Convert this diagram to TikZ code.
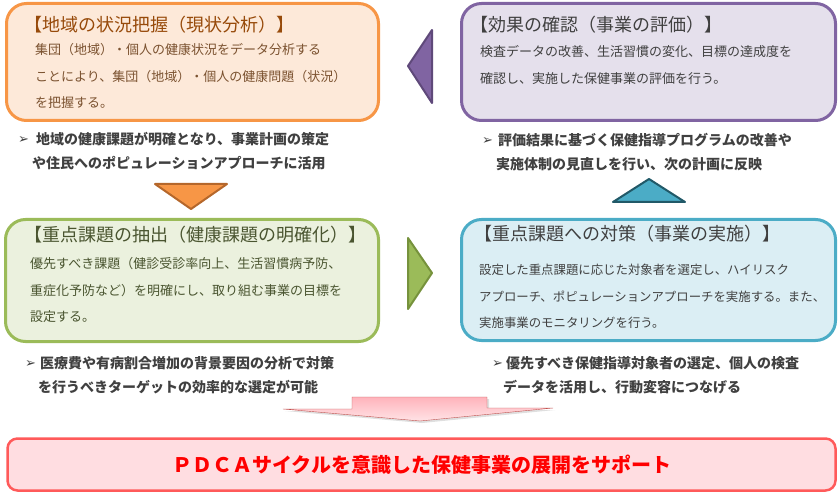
\documentclass[tikz,border=0pt]{standalone}
\usepackage{fontspec}
\setmainfont{Noto Sans CJK JP}
\newfontfamily\symfont{DejaVu Sans}
\usetikzlibrary{shadows}

\definecolor{orgfill}{HTML}{FDE9D9}
\definecolor{orgline}{HTML}{F79646}
\definecolor{orgdark}{HTML}{B5672B}
\definecolor{orgtitle}{HTML}{974A0A}
\definecolor{orgtext}{HTML}{7B5230}
\definecolor{purfill}{HTML}{E5E0EC}
\definecolor{purline}{HTML}{8064A2}
\definecolor{purdark}{HTML}{5F497A}
\definecolor{grnfill}{HTML}{EBF1DE}
\definecolor{grnline}{HTML}{9BBB59}
\definecolor{grndark}{HTML}{76923C}
\definecolor{grntext}{HTML}{4A5530}
\definecolor{tealfill}{HTML}{DBEEF4}
\definecolor{tealline}{HTML}{4BACC6}
\definecolor{tealdark}{HTML}{215968}
\definecolor{darktext}{HTML}{404040}
\definecolor{pdcafill}{HTML}{FFDDE1}
\definecolor{pdcaline}{HTML}{FF5A5A}
\definecolor{arrline}{HTML}{C0504D}
\definecolor{arrtop}{HTML}{FFB3BB}
\definecolor{arrbot}{HTML}{FFE3E6}

\newcommand{\pointer}[1]{\makebox[#1][l]{\symfont\fontsize{13}{13}\selectfont\raisebox{0.5pt}{➢}}}

\begin{document}
\begin{tikzpicture}[x=1pt, y=-1pt, line join=round,
    box/.style={draw, rounded corners=20pt, line width=3pt, inner sep=0pt},
    ttl/.style={anchor=west, inner sep=0pt, font=\fontsize{18}{18}\selectfont},
    body/.style={anchor=north west, inner sep=0pt, align=left, font=\fontsize{13}{26.5}\selectfont},
    note/.style={anchor=north west, inner sep=0pt, align=left, text=darktext, font=\bfseries\fontsize{14}{24.5}\selectfont},
    tri/.style={line width=2pt}]
  \useasboundingbox (0,0) rectangle (840,494);

  % the four boxes
  \node[box, draw=orgline, fill=orgfill, minimum width=372pt, minimum height=117pt] (status) at (192.5,62) {};
  \node[box, draw=purline, fill=purfill, minimum width=374pt, minimum height=117pt] (review) at (648.5,62) {};
  \node[box, draw=grnline, fill=grnfill, minimum width=373pt, minimum height=122pt] (issues) at (192,280.5) {};
  \node[box, draw=tealline, fill=tealfill, minimum width=374pt, minimum height=121pt] (action) at (648.5,280) {};

  \node[ttl, text=orgtitle] (statusttl) at (24,25) {【地域の状況把握（現状分析）】};
  \node[body, text=orgtext] (statustxt) at (35,43.5) {集団（地域）・個人の健康状況をデータ分析する\\ことにより、集団（地域）・個人の健康問題（状況）\\を把握する。};

  \node[ttl, text=darktext] (reviewttl) at (470,25) {【効果の確認（事業の評価）】};
  \node[body, text=darktext] (reviewtxt) at (480,45.5) {検査データの改善、生活習慣の変化、目標の達成度を\\確認し、実施した保健事業の評価を行う。};

  \node[ttl, text=grntext] (issuesttl) at (24,235) {【重点課題の抽出（健康課題の明確化）】};
  \node[body, text=grntext] (issuestxt) at (30,257.5) {優先すべき課題（健診受診率向上、生活習慣病予防、\\重症化予防など）を明確にし、取り組む事業の目標を\\設定する。};

  \node[ttl, text=darktext] (actionttl) at (474,234) {【重点課題への対策（事業の実施）】};
  \node[body, text=darktext, font=\fontsize{12.4}{26.5}\selectfont] (actiontxt) at (479,264) {設定した重点課題に応じた対象者を選定し、ハイリスク\\アプローチ、ポピュレーションアプローチを実施する。また、\\実施事業のモニタリングを行う。};

  % notes under the boxes
  \node[note] (statusnote) at (18,132) {\pointer{18pt}地域の健康課題が明確となり、事業計画の策定\\\hspace*{14pt}や住民へのポピュレーションアプローチに活用};
  \node[note] (reviewnote) at (482,133) {\pointer{16pt}評価結果に基づく保健指導プログラムの改善や\\\hspace*{14pt}実施体制の見直しを行い、次の計画に反映};
  \node[note] (issuesnote) at (25,356) {\pointer{15pt}医療費や有病割合増加の背景要因の分析で対策\\\hspace*{13pt}を行うべきターゲットの効率的な選定が可能};
  \node[note] (actionnote) at (492,356) {\pointer{14pt}優先すべき保健指導対象者の選定、個人の検査\\\hspace*{11pt}データを活用し、行動変容につなげる};

  % cycle triangles
  \draw[tri, draw=orgdark, fill=orgline] (155,184) -- (227,184) -- (191,209) -- cycle;
  \draw[tri, draw=grndark, fill=grnline] (408,238) -- (408,309) -- (432,273) -- cycle;
  \draw[tri, draw=tealdark, fill=tealline] (613,202) -- (685,202) -- (649,179) -- cycle;
  \draw[tri, draw=purdark, fill=purline] (432,30) -- (432,103) -- (408,66) -- cycle;

  % big arrow and result
  \draw[draw=arrline, top color=arrtop, bottom color=arrbot,
    drop shadow={opacity=0.25, shadow xshift=2pt, shadow yshift=-2pt}]
    (352,397) -- (487,397) -- (487,408) -- (553,408) -- (420,421) -- (283,409) -- (352,409) -- cycle;
  \node[draw=pdcaline, fill=pdcafill, line width=2.5pt, rounded corners=10pt, minimum width=828pt, minimum height=52pt, inner sep=0pt,
    text=red, font=\bfseries\fontsize{20}{20}\selectfont] (pdca) at (421.5,464.5) {ＰＤＣＡサイクルを意識した保健事業の展開をサポート};
\end{tikzpicture}
\end{document}
